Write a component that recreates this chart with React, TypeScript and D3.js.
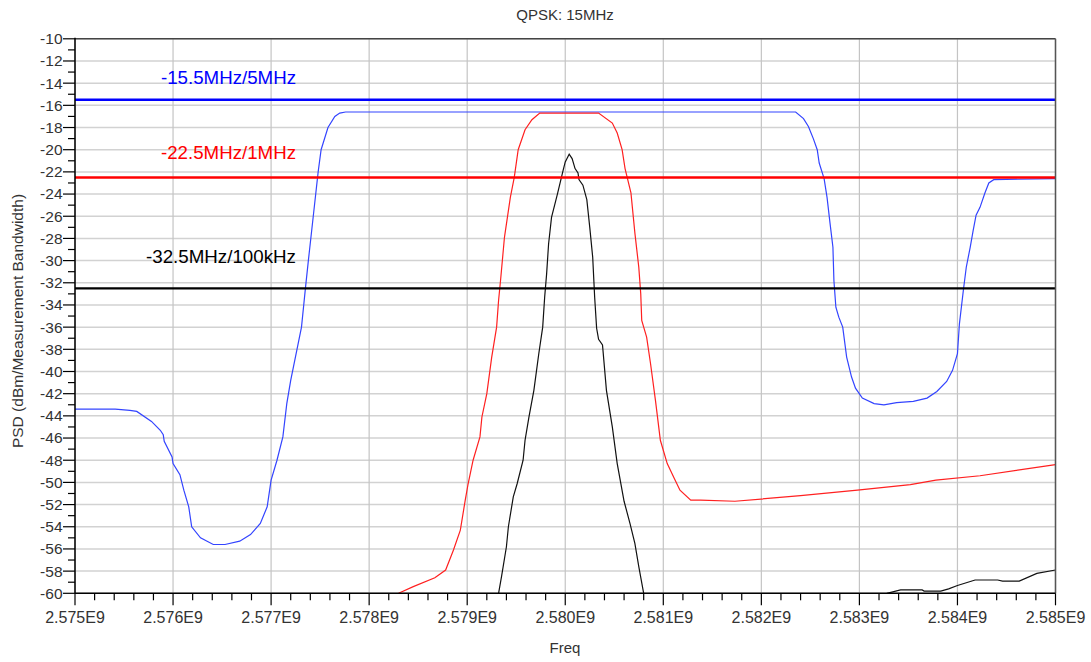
import React from "react";
import * as d3 from "d3";

// Frequencies in MHz, PSD in dBm/Measurement Bandwidth
const blueFreq = [2575.00, 2575.41, 2575.56, 2575.63, 2575.78, 2575.87, 2575.90, 2575.91, 2575.99, 2576.00, 2576.07, 2576.11, 2576.16, 2576.19, 2576.28, 2576.41, 2576.53, 2576.68, 2576.79, 2576.89, 2576.96, 2577.00, 2577.06, 2577.12, 2577.16, 2577.20, 2577.31, 2577.35, 2577.38, 2577.43, 2577.48, 2577.51, 2577.58, 2577.65, 2577.70, 2577.76, 2582.35, 2582.43, 2582.48, 2582.53, 2582.57, 2582.59, 2582.64, 2582.67, 2582.70, 2582.73, 2582.74, 2582.76, 2582.79, 2582.83, 2582.87, 2582.92, 2582.96, 2583.03, 2583.15, 2583.25, 2583.38, 2583.55, 2583.69, 2583.79, 2583.89, 2583.95, 2584.00, 2584.02, 2584.06, 2584.09, 2584.13, 2584.16, 2584.19, 2584.23, 2584.28, 2584.32, 2584.37, 2585.00];
const blueVal = [-43.4, -43.4, -43.5, -43.6, -44.5, -45.3, -45.7, -46.3, -47.7, -48.3, -49.3, -50.7, -52.2, -54.0, -55.0, -55.6, -55.6, -55.3, -54.7, -53.7, -52.2, -49.8, -48.0, -45.9, -42.9, -40.8, -36.0, -32.5, -30.0, -26.0, -22.0, -20.0, -18.0, -17.0, -16.7, -16.6, -16.6, -17.2, -17.9, -19.0, -20.0, -21.2, -22.6, -24.3, -26.6, -28.8, -31.8, -34.2, -35.1, -36.0, -38.7, -40.5, -41.5, -42.4, -42.9, -43.0, -42.8, -42.7, -42.4, -41.8, -40.9, -39.9, -38.4, -35.7, -32.7, -30.6, -28.8, -27.3, -25.9, -25.2, -23.9, -23.0, -22.7, -22.6];

const redFreq = [2578.30, 2578.45, 2578.67, 2578.78, 2578.86, 2578.93, 2578.98, 2579.01, 2579.06, 2579.13, 2579.15, 2579.20, 2579.25, 2579.30, 2579.32, 2579.34, 2579.38, 2579.41, 2579.44, 2579.48, 2579.52, 2579.59, 2579.66, 2579.74, 2580.34, 2580.48, 2580.53, 2580.58, 2580.61, 2580.67, 2580.71, 2580.75, 2580.77, 2580.78, 2580.83, 2580.87, 2580.92, 2580.97, 2581.04, 2581.11, 2581.17, 2581.28, 2581.38, 2581.73, 2582.40, 2582.98, 2583.52, 2583.78, 2584.23, 2585.00];
const redVal = [-60.0, -59.4, -58.6, -57.9, -56.1, -54.3, -51.6, -50.1, -48.0, -45.9, -44.1, -42.0, -38.7, -36.0, -33.6, -31.8, -27.9, -26.1, -24.3, -22.5, -20.0, -18.2, -17.3, -16.7, -16.7, -17.6, -18.5, -20.0, -21.7, -23.9, -27.5, -30.6, -33.0, -35.4, -36.9, -39.3, -42.6, -46.2, -48.3, -49.6, -50.7, -51.6, -51.6, -51.7, -51.2, -50.7, -50.2, -49.8, -49.4, -48.4];

// black trace: two visible segments, the part in between lies below -60
const blackFreq1 = [2579.32, 2579.35, 2579.40, 2579.42, 2579.47, 2579.51, 2579.57, 2579.59, 2579.63, 2579.68, 2579.73, 2579.77, 2579.79, 2579.81, 2579.83, 2579.86, 2579.92, 2579.98, 2580.00, 2580.04, 2580.07, 2580.10, 2580.13, 2580.14, 2580.18, 2580.22, 2580.25, 2580.28, 2580.30, 2580.32, 2580.34, 2580.38, 2580.42, 2580.48, 2580.53, 2580.60, 2580.66, 2580.71, 2580.75, 2580.80];
const blackVal1 = [-60.0, -58.5, -55.8, -54.0, -51.3, -50.1, -48.0, -46.2, -44.1, -41.7, -38.4, -36.0, -33.3, -31.2, -28.5, -26.1, -24.0, -21.8, -21.1, -20.4, -20.8, -21.7, -22.1, -22.7, -23.2, -24.5, -27.0, -29.7, -33.3, -36.1, -37.1, -37.6, -41.7, -45.0, -48.3, -51.7, -53.7, -55.5, -57.6, -60.0];
const blackFreq2 = [2583.28, 2583.42, 2583.64, 2583.66, 2583.83, 2583.91, 2584.00, 2584.18, 2584.41, 2584.46, 2584.63, 2584.81, 2585.00];
const blackVal2 = [-60.0, -59.7, -59.7, -59.8, -59.8, -59.6, -59.3, -58.8, -58.8, -58.9, -58.9, -58.2, -57.9];

const limitValues = [-15.5, -22.5, -32.5];
const limitLabels = ["-15.5MHz/5MHz", "-22.5MHz/1MHz", "-32.5MHz/100kHz"];
const limitColors = ["#0000ff", "#ff0000", "#000000"];

const xTickValues = [2575, 2576, 2577, 2578, 2579, 2580, 2581, 2582, 2583, 2584, 2585];
const xTickLabels = ["2.575E9", "2.576E9", "2.577E9", "2.578E9", "2.579E9", "2.580E9", "2.581E9", "2.582E9", "2.583E9", "2.584E9", "2.585E9"];
const yTickValues = d3.range(-60, -9, 2);

const W = 1091;
const H = 662;
const left = 75;
const right = 1055.5;
const top = 38.8;
const bottom = 593.3;

export default function App() {
  const x = d3.scaleLinear().domain([2575, 2585]).range([left, right]);
  const y = d3.scaleLinear().domain([-60, -10]).range([bottom, top]);
  const line = d3
    .line<[number, number]>()
    .x((d) => x(d[0]))
    .y((d) => y(d[1]));
  const zip = (a: number[], b: number[]) => a.map((v, i) => [v, b[i]] as [number, number]);

  const xMinor = d3.range(2575, 2585.001, 0.2);
  const yMinor = d3.range(-59, -10, 2);
  const font = "Arial, 'Liberation Sans', sans-serif";
  const textColor = "#333";
  const labelWidths = [135, 135, 150];

  return (
    <svg width={W} height={H} style={{ position: "absolute", left: 0, top: 0, background: "#fff" }} fontFamily={font}>
      <defs>
        <clipPath id="plot">
          <rect x={left} y={top} width={right - left} height={bottom - top} />
        </clipPath>
      </defs>
      {/* grid */}
      {yTickValues.map((v) => (
        <line key={"gy" + v} x1={left} x2={right} y1={y(v)} y2={y(v)} stroke="#d2d2d2" strokeWidth={1.5} />
      ))}
      {xTickValues.map((v) => (
        <line key={"gx" + v} x1={x(v)} x2={x(v)} y1={top} y2={bottom} stroke="#c4c4c4" strokeWidth={1.2} />
      ))}
      {/* traces */}
      <g clipPath="url(#plot)" fill="none">
        <path d={line(zip(blueFreq, blueVal)) || ""} stroke="#3344ff" strokeWidth={1.2} />
        <path d={line(zip(redFreq, redVal)) || ""} stroke="#ff2020" strokeWidth={1.2} />
        <path d={line(zip(blackFreq1, blackVal1)) || ""} stroke="#111" strokeWidth={1.2} />
        <path d={line(zip(blackFreq2, blackVal2)) || ""} stroke="#111" strokeWidth={1.2} />
        {limitValues.map((v, i) => (
          <line key={"lim" + i} x1={left} x2={right} y1={y(v)} y2={y(v)} stroke={limitColors[i]} strokeWidth={2.4} />
        ))}
      </g>
      {/* limit labels */}
      {limitLabels.map((t, i) => (
        <text
          key={"ll" + i}
          x={296 - labelWidths[i]}
          y={y(limitValues[i]) - [15.5, 18, 25.5][i]}
          textLength={labelWidths[i]}
          lengthAdjust="spacingAndGlyphs"
          fontSize={17.5}
          fill={limitColors[i]}
        >
          {t}
        </text>
      ))}
      {/* frame */}
      <line x1={left} x2={right} y1={top} y2={top} stroke="#444" strokeWidth={1.5} />
      <line x1={right} x2={right} y1={top} y2={bottom} stroke="#555" strokeWidth={1.5} />
      <line x1={left} x2={left} y1={top - 1} y2={bottom} stroke="#000" strokeWidth={1.5} />
      <line x1={left} x2={right} y1={bottom} y2={bottom} stroke="#000" strokeWidth={1.5} />
      {/* x ticks */}
      {xMinor.map((v, i) => (
        <line key={"xm" + i} x1={x(v)} x2={x(v)} y1={bottom} y2={bottom + (i % 5 === 0 ? 12 : 7)} stroke="#000" strokeWidth={1.2} />
      ))}
      {xTickValues.map((v, i) => (
        <text key={"xl" + i} x={x(v)} y={622.5} textAnchor="middle" fontSize={16} fill={textColor}>
          {xTickLabels[i]}
        </text>
      ))}
      {/* y ticks */}
      {yMinor.map((v) => (
        <line key={"ym" + v} x1={left - 7} x2={left} y1={y(v)} y2={y(v)} stroke="#000" strokeWidth={1.2} />
      ))}
      {yTickValues.map((v) => (
        <line key={"yM" + v} x1={left - 12} x2={left} y1={y(v)} y2={y(v)} stroke="#000" strokeWidth={1.2} />
      ))}
      {yTickValues.map((v) => (
        <text key={"yl" + v} x={62.5} y={y(v)} dy="0.35em" textAnchor="end" fontSize={15.5} fill={textColor}>
          {String(v)}
        </text>
      ))}
      {/* titles */}
      <text x={565} y={19.5} textAnchor="middle" fontSize={15} fill={textColor}>
        QPSK: 15MHz
      </text>
      <text x={565} y={653} textAnchor="middle" fontSize={15} fill={textColor}>
        Freq
      </text>
      <text
        transform={`translate(23, 321) rotate(-90)`}
        textAnchor="middle"
        fontSize={15.5}
        fill={textColor}
      >
        PSD (dBm/Measurement Bandwidth)
      </text>
    </svg>
  );
}
